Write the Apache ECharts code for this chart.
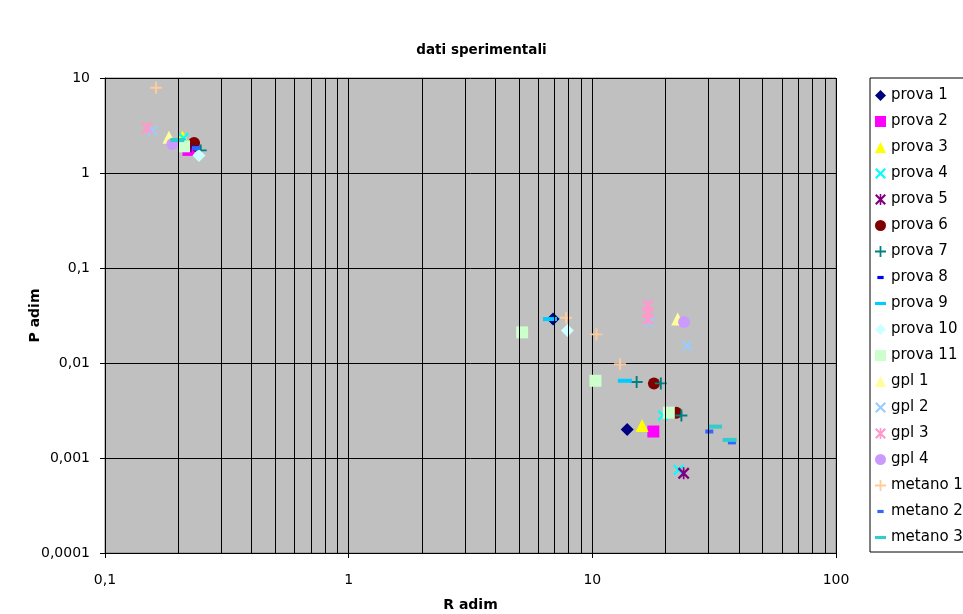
<!DOCTYPE html>
<html>
<head>
<meta charset="utf-8">
<title>dati sperimentali</title>
<script src="https://cdn.jsdelivr.net/npm/echarts@6/dist/echarts.min.js"></script>
<style>
    html, body { margin: 0; padding: 0; background: #fff; }
    #chart { width: 963px; height: 614px; }
</style>
</head>
<body>
<div id="chart"></div>
<script>
// punti: [R adim, P adim]
const prova1 = [[0.225, 1.9], [6.9, 0.029], [13.9, 0.002]];
const prova2 = [[0.22, 1.75], [17.8, 0.0019]];
const prova3 = [[0.208, 2.39], [16, 0.0022]];
const prova4 = [[0.21, 2.33], [19.5, 0.0028], [22.6, 0.00075]];
const prova5 = [[0.225, 1.9], [23.7, 0.00069]];
const prova6 = [[0.232, 2.07], [22.1, 0.003], [17.9, 0.0061]];
const prova7 = [[0.247, 1.73], [15.2, 0.0063], [19.1, 0.0061], [23.2, 0.0028]];
const prova8 = [[0.235, 1.85]];
const prova9 = [[0.2, 2.2], [6.7, 0.029], [13.6, 0.0065]];
const prova10 = [[0.243, 1.53], [7.9, 0.022]];
const prova11 = [[0.211, 1.91], [5.15, 0.021], [10.3, 0.0065], [20.6, 0.003]];
const gpl1 = [[0.183, 2.38], [22.4, 0.029]];
const gpl2 = [[0.157, 2.79], [17.2, 0.027], [24.5, 0.0152]];
const gpl3 = [[0.149, 2.98], [16.9, 0.04], [16.9, 0.034], [16.9, 0.029]];
const gpl4 = [[0.189, 2.02], [23.8, 0.027]];
const metano1 = [[0.162, 7.9], [7.8, 0.03], [10.4, 0.02], [13, 0.0097]];
const metano2 = [[0.236, 1.83], [30.2, 0.0019], [37.4, 0.00146]];
const metano3 = [[0.198, 2.22], [31.9, 0.00214], [36.6, 0.00155]];

const seriesNames = ["prova 1", "prova 2", "prova 3", "prova 4", "prova 5", "prova 6",
    "prova 7", "prova 8", "prova 9", "prova 10", "prova 11",
    "gpl 1", "gpl 2", "gpl 3", "gpl 4", "metano 1", "metano 2", "metano 3"];
const seriesData = [prova1, prova2, prova3, prova4, prova5, prova6, prova7, prova8, prova9,
    prova10, prova11, gpl1, gpl2, gpl3, gpl4, metano1, metano2, metano3];

// linee verticali secondarie della griglia (2..9 per decade)
const xMinorGrid = [0.2, 0.3, 0.4, 0.5, 0.6, 0.7, 0.8, 0.9,
    2, 3, 4, 5, 6, 7, 8, 9,
    20, 30, 40, 50, 60, 70, 80, 90];

// marcatori stile Excel
const SYM_X = "path://M0,1.4L1.4,0L5,3.6L8.6,0L10,1.4L6.4,5L10,8.6L8.6,10L5,6.4L1.4,10L0,8.6L3.6,5Z";
const SYM_STAR = SYM_X + "M4.3,0H5.7V10H4.3Z";
const SYM_PLUS = "path://M4.2,0H5.8V4.2H10V5.8H5.8V10H4.2V5.8H0V4.2H4.2Z";
const SYM_DASH = "path://M0,0M3,5H11V9H3ZM14,14";
const SYM_LDASH = "path://M0,0M0,5H14V9H0ZM14,14";

const styles = [
    { color: "#000080", symbol: "diamond", size: 13 },
    { color: "#FF00FF", symbol: "rect", size: 12 },
    { color: "#FFFF00", symbol: "triangle", size: 13 },
    { color: "#00FFFF", symbol: SYM_X, size: 11 },
    { color: "#800080", symbol: SYM_STAR, size: 12 },
    { color: "#800000", symbol: "circle", size: 12 },
    { color: "#008080", symbol: SYM_PLUS, size: 12 },
    { color: "#0000FF", symbol: SYM_DASH, size: 14 },
    { color: "#00CCFF", symbol: SYM_LDASH, size: 14 },
    { color: "#CCFFFF", symbol: "diamond", size: 13 },
    { color: "#CCFFCC", symbol: "rect", size: 12 },
    { color: "#FFFF99", symbol: "triangle", size: 13 },
    { color: "#99CCFF", symbol: SYM_X, size: 11 },
    { color: "#FF99CC", symbol: SYM_STAR, size: 12 },
    { color: "#CC99FF", symbol: "circle", size: 12 },
    { color: "#FFCC99", symbol: SYM_PLUS, size: 12 },
    { color: "#3366FF", symbol: SYM_DASH, size: 14 },
    { color: "#33CCCC", symbol: SYM_LDASH, size: 14 }
];

const FONT = "DejaVu Sans, sans-serif";

// 0.01 -> "0,01"
function commaLabel(v) {
    return Number(v.toPrecision(4)).toString().replace(".", ",");
}

const chart = echarts.init(document.getElementById("chart"), null, { renderer: "canvas" });

const series = [
    {
        // solo per disegnare la griglia secondaria
        type: "scatter",
        data: [],
        silent: true,
        markLine: {
            silent: true,
            symbol: "none",
            animation: false,
            label: { show: false },
            lineStyle: { color: "#000", width: 1, type: "solid" },
            data: xMinorGrid.map(v => ({ xAxis: v }))
        }
    }
];
seriesNames.forEach((name, i) => {
    series.push({
        name: name,
        type: "scatter",
        data: seriesData[i],
        symbol: styles[i].symbol,
        symbolSize: styles[i].size,
        itemStyle: { color: styles[i].color, opacity: 1 },
        emphasis: { disabled: true }
    });
});

chart.setOption({
    animation: false,
    backgroundColor: "#fff",
    title: {
        text: "dati sperimentali",
        left: "center",
        top: 38,
        textStyle: { fontFamily: FONT, fontSize: 13.5, fontWeight: "bold", color: "#000" }
    },
    grid: {
        left: 105,
        right: 127,
        top: 78,
        bottom: 61,
        outerBoundsMode: "none",
        show: true,
        backgroundColor: "#c0c0c0",
        borderColor: "#808080",
        borderWidth: 1
    },
    legend: {
        orient: "vertical",
        left: 870,
        top: 78,
        padding: [10, 80, 7, 5],
        borderColor: "#000",
        borderWidth: 1,
        itemWidth: 11,
        itemHeight: 11,
        itemGap: 11,
        selectedMode: false,
        textStyle: { fontFamily: FONT, fontSize: 15, lineHeight: 15, color: "#000" },
        data: seriesNames.map((name, i) => ({ name: name, icon: styles[i].symbol }))
    },
    xAxis: {
        type: "log",
        logBase: 10,
        min: 0.1,
        max: 100,
        name: "R adim",
        nameLocation: "middle",
        nameGap: 45,
        nameMoveOverlap: false,
        nameTextStyle: { fontFamily: FONT, fontSize: 14, fontWeight: "bold", color: "#000" },
        axisLine: { onZero: false, lineStyle: { color: "#000", width: 1 } },
        axisTick: { show: true, length: 5, lineStyle: { color: "#000" } },
        axisLabel: { fontFamily: FONT, fontSize: 14, color: "#000", margin: 20, formatter: commaLabel },
        splitLine: { show: true, lineStyle: { color: "#000", width: 1 } }
    },
    yAxis: {
        type: "log",
        logBase: 10,
        min: 0.0001,
        max: 10,
        name: "P adim",
        nameLocation: "middle",
        nameGap: 63,
        nameMoveOverlap: false,
        nameTextStyle: { fontFamily: FONT, fontSize: 14, fontWeight: "bold", color: "#000" },
        axisLine: { onZero: false, lineStyle: { color: "#000", width: 1 } },
        axisTick: { show: true, length: 5, lineStyle: { color: "#000" } },
        axisLabel: { fontFamily: FONT, fontSize: 14, color: "#000", margin: 15, formatter: commaLabel },
        splitLine: { show: true, lineStyle: { color: "#000", width: 1 } }
    },
    series: series
});
</script>
</body>
</html>
